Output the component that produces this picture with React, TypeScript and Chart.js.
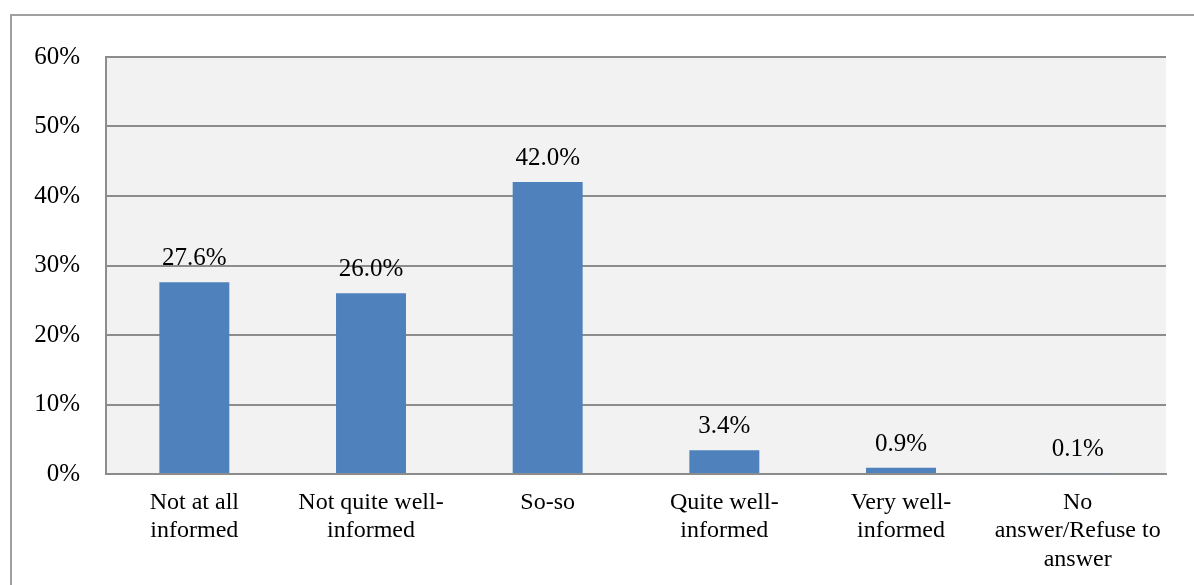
import React, { useEffect, useRef } from "react";
import { Chart, registerables } from "chart.js";

Chart.register(...registerables);

const categories: (string | string[])[] = [
  ["Not at all", "informed"],
  ["Not quite well-", "informed"],
  "So-so",
  ["Quite well-", "informed"],
  ["Very well-", "informed"],
  ["No", "answer/Refuse to", "answer"],
];
const shares = [27.6, 26.0, 42.0, 3.4, 0.9, 0.1];
const yTicks = [0, 10, 20, 30, 40, 50, 60];

const FONT = "'Liberation Serif', 'Times New Roman', serif";
const GRID = "#8c8c8c";

const plotBackground = {
  id: "plotBackground",
  beforeDraw(chart: any) {
    const { ctx, chartArea } = chart;
    ctx.save();
    ctx.fillStyle = "#f2f2f2";
    ctx.fillRect(chartArea.left, chartArea.top, chartArea.right - chartArea.left, chartArea.bottom - chartArea.top);
    ctx.restore();
  },
};

const frame = {
  id: "frame",
  afterDraw(chart: any) {
    const { ctx } = chart;
    ctx.save();
    ctx.strokeStyle = "#a0a0a0";
    ctx.lineWidth = 2;
    ctx.beginPath();
    ctx.moveTo(11, chart.height);
    ctx.lineTo(11, 15);
    ctx.lineTo(chart.width, 15);
    ctx.stroke();
    ctx.restore();
  },
};

const valueLabels = {
  id: "valueLabels",
  afterDatasetsDraw(chart: any) {
    const { ctx } = chart;
    const meta = chart.getDatasetMeta(0);
    ctx.save();
    ctx.font = `25px ${FONT}`;
    ctx.fillStyle = "#000";
    ctx.textAlign = "center";
    ctx.textBaseline = "alphabetic";
    meta.data.forEach((bar: any, i: number) => {
      ctx.fillText(shares[i].toFixed(1) + "%", bar.x, bar.y - 17);
    });
    ctx.restore();
  },
};

export default function App() {
  const ref = useRef<HTMLCanvasElement>(null);

  useEffect(() => {
    if (!ref.current) return;
    const chart = new Chart(ref.current, {
      type: "bar",
      data: {
        labels: categories,
        datasets: [
          {
            data: shares,
            backgroundColor: "#4f81bd",
            borderWidth: 0,
            categoryPercentage: 1,
            barPercentage: 0.396,
          },
        ],
      },
      options: {
        responsive: false,
        animation: false,
        layout: { padding: { left: 0, top: 57, right: 28, bottom: 0 } },
        plugins: { legend: { display: false }, tooltip: { enabled: false } },
        scales: {
          x: {
            grid: { display: false, drawTicks: false },
            border: { display: true, color: GRID, width: 2 },
            ticks: {
              color: "#000",
              font: { family: FONT, size: 24, lineHeight: 1.2 },
              padding: 14,
              maxRotation: 0,
              minRotation: 0,
              autoSkip: false,
            },
            afterFit(scale: any) {
              scale.height = 111;
            },
          },
          y: {
            min: 0,
            max: 60,
            afterBuildTicks(scale: any) {
              scale.ticks = yTicks.map((v) => ({ value: v }));
            },
            grid: { color: GRID, lineWidth: 2, drawTicks: false },
            border: { display: true, color: GRID, width: 2 },
            ticks: {
              color: "#000",
              font: { family: FONT, size: 25 },
              padding: 26,
              callback: (v: any) => v + "%",
            },
            afterFit(scale: any) {
              scale.width = 106;
            },
          },
        },
      },
      plugins: [plotBackground, valueLabels, frame],
    });
    return () => chart.destroy();
  }, []);

  return (
    <div style={{ position: "absolute", left: 0, top: 0, width: 1194, height: 585, background: "#fff" }}>
      <canvas ref={ref} width={1194} height={585} />
    </div>
  );
}
